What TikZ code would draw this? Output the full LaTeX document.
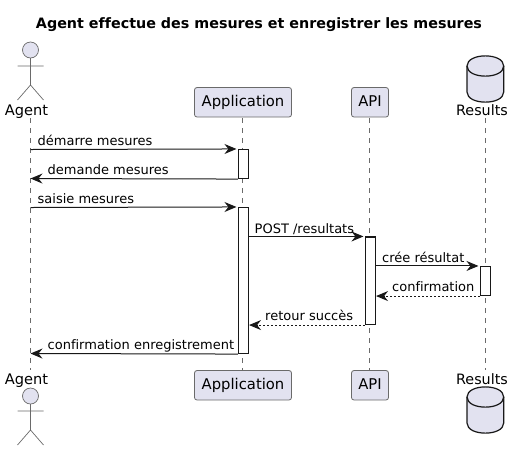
\documentclass[tikz,border=0pt]{standalone}
\usepackage{fontspec}
\setmainfont{DejaVu Sans}[Ligatures=NoCommon]
\usetikzlibrary{arrows.meta,shapes.geometric}
\definecolor{ink}{HTML}{181818}
\definecolor{soft}{HTML}{6A6A6A}
\definecolor{pfill}{HTML}{E2E2F0}
\tikzset{
  pbox/.style={draw=soft,line width=0.8pt,fill=pfill,rounded corners=2.5pt,minimum height=29.5pt,inner sep=0pt,font=\fontsize{14.8}{16}\selectfont,text=black},
  plabel/.style={anchor=base,inner sep=0pt,font=\fontsize{14.6}{16}\selectfont,text=black},
  life/.style={draw=soft,line width=0.6pt,dash pattern=on 5pt off 5pt},
  act/.style={draw=ink,line width=1.1pt,fill=white,minimum width=10pt,inner sep=0pt},
  msg/.style={draw=ink,line width=1pt,-{Stealth[length=12pt,width=10pt,inset=4pt,fill=ink]}},
  fwd/.style={msg,shorten >=1.5pt},
  rmsg/.style={msg,dash pattern=on 2pt off 2pt},
  mlabel/.style={anchor=base west,inner sep=0pt,font=\fontsize{13}{15}\selectfont,text=black},
  limb/.style={draw=soft,line width=0.7pt},
  dbs/.style={draw=ink,line width=1.2pt,fill=pfill}
}
\begin{document}
\begin{tikzpicture}[x=1pt,y=-1pt]
\useasboundingbox (0,0) rectangle (519,451);
\node[anchor=base,inner sep=0pt,font=\bfseries\fontsize{14.3}{16}\selectfont] (title) at (259,28.3) {Agent effectue des mesures et enregistrer les mesures};
% lifeline ends
\coordinate (agT) at (30.5,118); \coordinate (agB) at (30.5,370);
\coordinate (apT) at (242.5,118); \coordinate (apB) at (242.5,370);
\coordinate (aiT) at (369.5,118); \coordinate (aiB) at (369.5,370);
\coordinate (reT) at (485.5,118); \coordinate (reB) at (485.5,370);
\draw[life] (agT) -- (agB);
\draw[life] (apT) -- (apB);
\draw[life] (aiT) -- (aiB);
\draw[life] (reT) -- (reB);
% participants
\node[pbox,minimum width=97pt] (appTop) at (243,102.25) {\raisebox{-4.4pt}[0pt][0pt]{Application}};
\node[pbox,minimum width=37pt] (apiTop) at (370,102.25) {\raisebox{-4.4pt}[0pt][0pt]{API}};
\node[pbox,minimum width=97pt] (appBot) at (243,385.25) {\raisebox{-4.4pt}[0pt][0pt]{Application}};
\node[pbox,minimum width=37pt] (apiBot) at (370,385.25) {\raisebox{-4.4pt}[0pt][0pt]{API}};
\node[plabel] (agentTop) at (26.5,115) {Agent};
\node[plabel] (agentBot) at (26.5,384.3) {Agent};
\node[plabel,font=\fontsize{14.3}{16}\selectfont] (resTop) at (482,115) {Results};
\node[plabel,font=\fontsize{14.3}{16}\selectfont] (resBot) at (482,384.3) {Results};
% actors
\draw[limb,fill=pfill] (30.5,50) circle (8);
\draw[limb] (30.5,58) -- (30.5,85) (17.5,66) -- (43.5,66) (17.5,100) -- (30.5,85) -- (43.5,100);
\draw[limb,fill=pfill] (30.5,396) circle (8);
\draw[limb] (30.5,404) -- (30.5,430) (17.5,411) -- (43.5,411) (17.5,445) -- (30.5,430) -- (43.5,445);
% databases
\draw[dbs] (467,66) .. controls (467,52.5) and (503.7,52.5) .. (503.7,66) -- (503.7,92) .. controls (503.7,105.5) and (467,105.5) .. (467,92) -- cycle;
\draw[dbs,fill=none] (467,66) .. controls (467,79.5) and (503.7,79.5) .. (503.7,66);
\draw[dbs] (467,397) .. controls (467,383.5) and (503.7,383.5) .. (503.7,397) -- (503.7,423) .. controls (503.7,436.5) and (467,436.5) .. (467,423) -- cycle;
\draw[dbs,fill=none] (467,397) .. controls (467,410.5) and (503.7,410.5) .. (503.7,397);
% activations
\node[act,minimum height=29pt] (a1) at (243.5,164) {};
\node[act,minimum height=146pt] (a2) at (243.5,280.5) {};
\node[act,minimum height=87.5pt] (a3) at (370.5,280.75) {};
\node[act,minimum height=29pt] (a4) at (485.5,281) {};
% free ends on the Agent lifeline
\coordinate (m1s) at (30.5,149.5); \coordinate (m2e) at (30.5,178.5);
\coordinate (m3s) at (30.5,207.5); \coordinate (m8e) at (30.5,353.5);
% messages
\draw[fwd] (m1s) -- (a1.north west);
\node[mlabel] (t1) at (37.5,145.5) {démarre mesures};
\draw[msg] (a1.south west) -- (m2e);
\node[mlabel] (t2) at (47.5,174.5) {demande mesures};
\draw[fwd] (m3s) -- (a2.north west);
\node[mlabel] (t3) at (37.5,203.5) {saisie mesures};
\draw[fwd] (a2.east |- a3.north) -- (a3.north west);
\node[mlabel] (t4) at (254.5,233) {POST /resultats};
\draw[fwd] (a3.east |- a4.north) -- (a4.north west);
\node[mlabel] (t5) at (382,262.5) {crée résultat};
\draw[rmsg] (a4.south west) -- (a3.east |- a4.south);
\node[mlabel] (t6) at (392,291.5) {confirmation};
\draw[rmsg] (a3.south west) -- (a2.east |- a3.south);
\node[mlabel] (t7) at (265,320.5) {retour succès};
\draw[msg] (a2.south west) -- (m8e);
\node[mlabel] (t8) at (47.5,349.5) {confirmation enregistrement};
\end{tikzpicture}
\end{document}
